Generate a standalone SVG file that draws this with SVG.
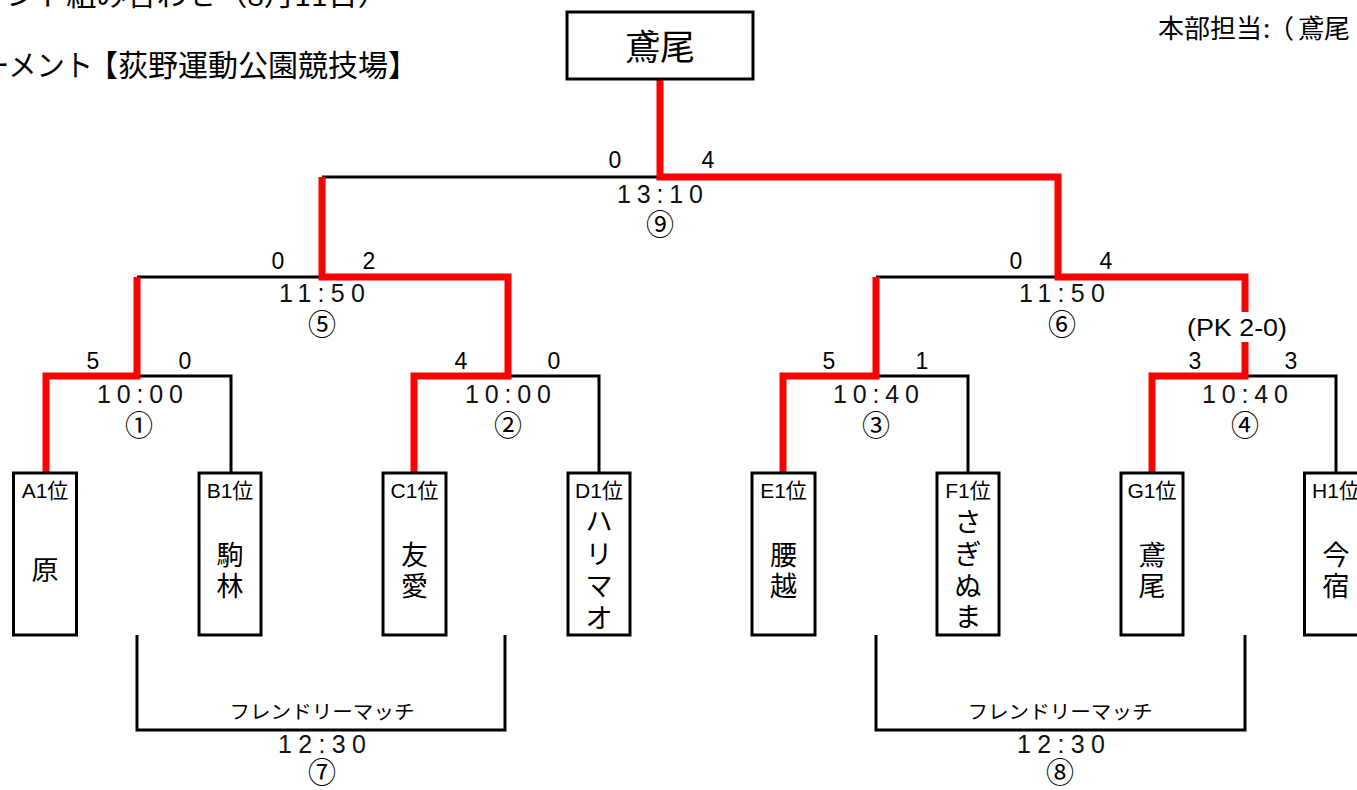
<svg xmlns="http://www.w3.org/2000/svg" width="1357" height="790" viewBox="0 0 1357 790">
<style>
.bg{fill:#fff}
.box{fill:#fff;stroke:#000;stroke-width:3}
.blk{fill:none;stroke:#000;stroke-width:3;stroke-linejoin:miter}
.red{fill:none;stroke:#f00;stroke-width:7;stroke-linejoin:miter;stroke-linecap:butt}
.jp{font-family:"Noto Sans CJK JP","Noto Sans",sans-serif;fill:#000}
.lab{font-family:"Liberation Sans","Noto Sans CJK JP",sans-serif;font-size:21px;text-anchor:middle;fill:#000}
.nm{font-family:"Noto Sans CJK JP",sans-serif;font-size:27px;text-anchor:middle;fill:#000}
.sc{font-family:"Liberation Sans",Arial,sans-serif;font-size:23px;text-anchor:middle;fill:#000}
.tm{font-family:"Liberation Sans",Arial,sans-serif;font-size:25px;text-anchor:middle;fill:#111}
.cn{font-family:"Noto Sans CJK JP",sans-serif;font-size:28px;text-anchor:middle;fill:#000}
.fr{font-family:"Noto Sans CJK JP",sans-serif;font-size:19px;text-anchor:middle;fill:#000}
</style>
<rect class="bg" x="0" y="0" width="1357" height="790"/>

<g id="header">
<text class="jp" x="6" y="6" font-size="28" textLength="382" lengthAdjust="spacingAndGlyphs">ント組み合わせ（8月11日）</text>
<text class="jp" x="-19" y="76" font-size="30" textLength="112" lengthAdjust="spacingAndGlyphs">ーメント</text>
<text class="jp" x="88" y="76" font-size="30">【荻野運動公園競技場】</text>
<text class="jp" x="1158" y="38" font-size="26">本部担当<tspan x="1263">:</tspan><tspan x="1268">（</tspan><tspan x="1298">鳶尾</tspan></text>
</g>

<g id="connectors">
<path class="blk" d="M322,177 H660"/>
<path class="blk" d="M137,277 H322"/>
<path class="blk" d="M876,277 H1058"/>
<path class="blk" d="M137,376 H231 V473"/>
<path class="blk" d="M508,376 H599 V473"/>
<path class="blk" d="M876,376 H968 V473"/>
<path class="blk" d="M1245,376 H1336 V473"/>
<path class="blk" d="M137,635 V730 H505 V635"/>
<path class="blk" d="M876,635 V730 H1245 V635"/>
<path class="red" d="M660,79 V177 H1058 V277 H1245 V312"/>
<path class="red" d="M1245,342 V376 H1152 V473"/>
<path class="red" d="M322,177 V277 H508 V376 H414 V473"/>
<path class="red" d="M137,277 V376 H46 V473"/>
<path class="red" d="M876,277 V376 H783 V473"/>
</g>

<g id="champion">
<rect class="box" x="567" y="12" width="186" height="67"/>
<text class="jp" x="660" y="60" font-size="35" text-anchor="middle">鳶尾</text>
</g>

<g id="match9">
<text class="sc" x="615" y="168">0</text>
<text class="sc" x="708" y="168">4</text>
<text class="tm" x="660" y="203" textLength="86" lengthAdjust="spacing">13:10</text>
<text class="cn" x="660" y="235">⑨</text>
</g>
<g id="match5">
<text class="sc" x="278" y="269">0</text>
<text class="sc" x="369" y="269">2</text>
<text class="tm" x="322" y="302" textLength="86" lengthAdjust="spacing">11:50</text>
<text class="cn" x="322" y="335">⑤</text>
</g>
<g id="match6">
<text class="sc" x="1016" y="269">0</text>
<text class="sc" x="1106" y="269">4</text>
<text class="tm" x="1062" y="302" textLength="86" lengthAdjust="spacing">11:50</text>
<text class="cn" x="1062" y="335">⑥</text>
<text class="sc" x="1237" y="336" font-size="22" textLength="100" lengthAdjust="spacingAndGlyphs">(PK 2-0)</text>
</g>
<g id="match1">
<text class="sc" x="93" y="369">5</text>
<text class="sc" x="185" y="369">0</text>
<text class="tm" x="140" y="403" textLength="86" lengthAdjust="spacing">10:00</text>
<text class="cn" x="139" y="436">①</text>
</g>
<g id="match2">
<text class="sc" x="461" y="369">4</text>
<text class="sc" x="554" y="369">0</text>
<text class="tm" x="508" y="403" textLength="86" lengthAdjust="spacing">10:00</text>
<text class="cn" x="508" y="436">②</text>
</g>
<g id="match3">
<text class="sc" x="829" y="369">5</text>
<text class="sc" x="922" y="369">1</text>
<text class="tm" x="876" y="403" textLength="86" lengthAdjust="spacing">10:40</text>
<text class="cn" x="876" y="436">③</text>
</g>
<g id="match4">
<text class="sc" x="1195" y="369">3</text>
<text class="sc" x="1291" y="369">3</text>
<text class="tm" x="1245" y="403" textLength="86" lengthAdjust="spacing">10:40</text>
<text class="cn" x="1245" y="436">④</text>
</g>
<g id="match7">
<text class="fr" x="322" y="719" textLength="185" lengthAdjust="spacingAndGlyphs">フレンドリーマッチ</text>
<text class="tm" x="322" y="753" textLength="88" lengthAdjust="spacing">12:30</text>
<text class="cn" x="322" y="783" font-size="27">⑦</text>
</g>
<g id="match8">
<text class="fr" x="1060" y="719" textLength="185" lengthAdjust="spacingAndGlyphs">フレンドリーマッチ</text>
<text class="tm" x="1061" y="753" textLength="88" lengthAdjust="spacing">12:30</text>
<text class="cn" x="1060" y="783" font-size="27">⑧</text>
</g>

<g id="teamA1">
<rect class="box" x="13.5" y="473" width="63" height="162"/>
<text class="lab" x="45" y="498">A1位</text>
<text class="nm" x="45" y="580">原</text>
</g>
<g id="teamB1">
<rect class="box" x="199" y="473" width="62" height="162"/>
<text class="lab" x="230" y="498">B1位</text>
<text class="nm"><tspan x="230" y="565">駒</tspan><tspan x="230" y="596">林</tspan></text>
</g>
<g id="teamC1">
<rect class="box" x="383" y="473" width="63" height="162"/>
<text class="lab" x="414.5" y="498">C1位</text>
<text class="nm"><tspan x="414.5" y="565">友</tspan><tspan x="414.5" y="596">愛</tspan></text>
</g>
<g id="teamD1">
<rect class="box" x="568" y="473" width="62" height="162"/>
<text class="lab" x="599" y="498">D1位</text>
<text class="nm"><tspan x="599" y="531">ハ</tspan><tspan x="599" y="564">リ</tspan><tspan x="599" y="596">マ</tspan><tspan x="599" y="628">オ</tspan></text>
</g>
<g id="teamE1">
<rect class="box" x="752" y="473" width="63" height="162"/>
<text class="lab" x="783.5" y="498">E1位</text>
<text class="nm"><tspan x="783.5" y="565">腰</tspan><tspan x="783.5" y="596">越</tspan></text>
</g>
<g id="teamF1">
<rect class="box" x="937" y="473" width="62" height="162"/>
<text class="lab" x="968" y="498">F1位</text>
<text class="nm"><tspan x="968" y="532">さ</tspan><tspan x="968" y="564">ぎ</tspan><tspan x="968" y="596">ぬ</tspan><tspan x="968" y="627">ま</tspan></text>
</g>
<g id="teamG1">
<rect class="box" x="1121" y="473" width="62" height="162"/>
<text class="lab" x="1152" y="498">G1位</text>
<text class="nm"><tspan x="1152" y="565">鳶</tspan><tspan x="1152" y="596">尾</tspan></text>
</g>
<g id="teamH1">
<rect class="box" x="1304.5" y="473" width="63" height="162"/>
<text class="lab" x="1336" y="498">H1位</text>
<text class="nm"><tspan x="1336" y="565">今</tspan><tspan x="1336" y="596">宿</tspan></text>
</g>
</svg>
